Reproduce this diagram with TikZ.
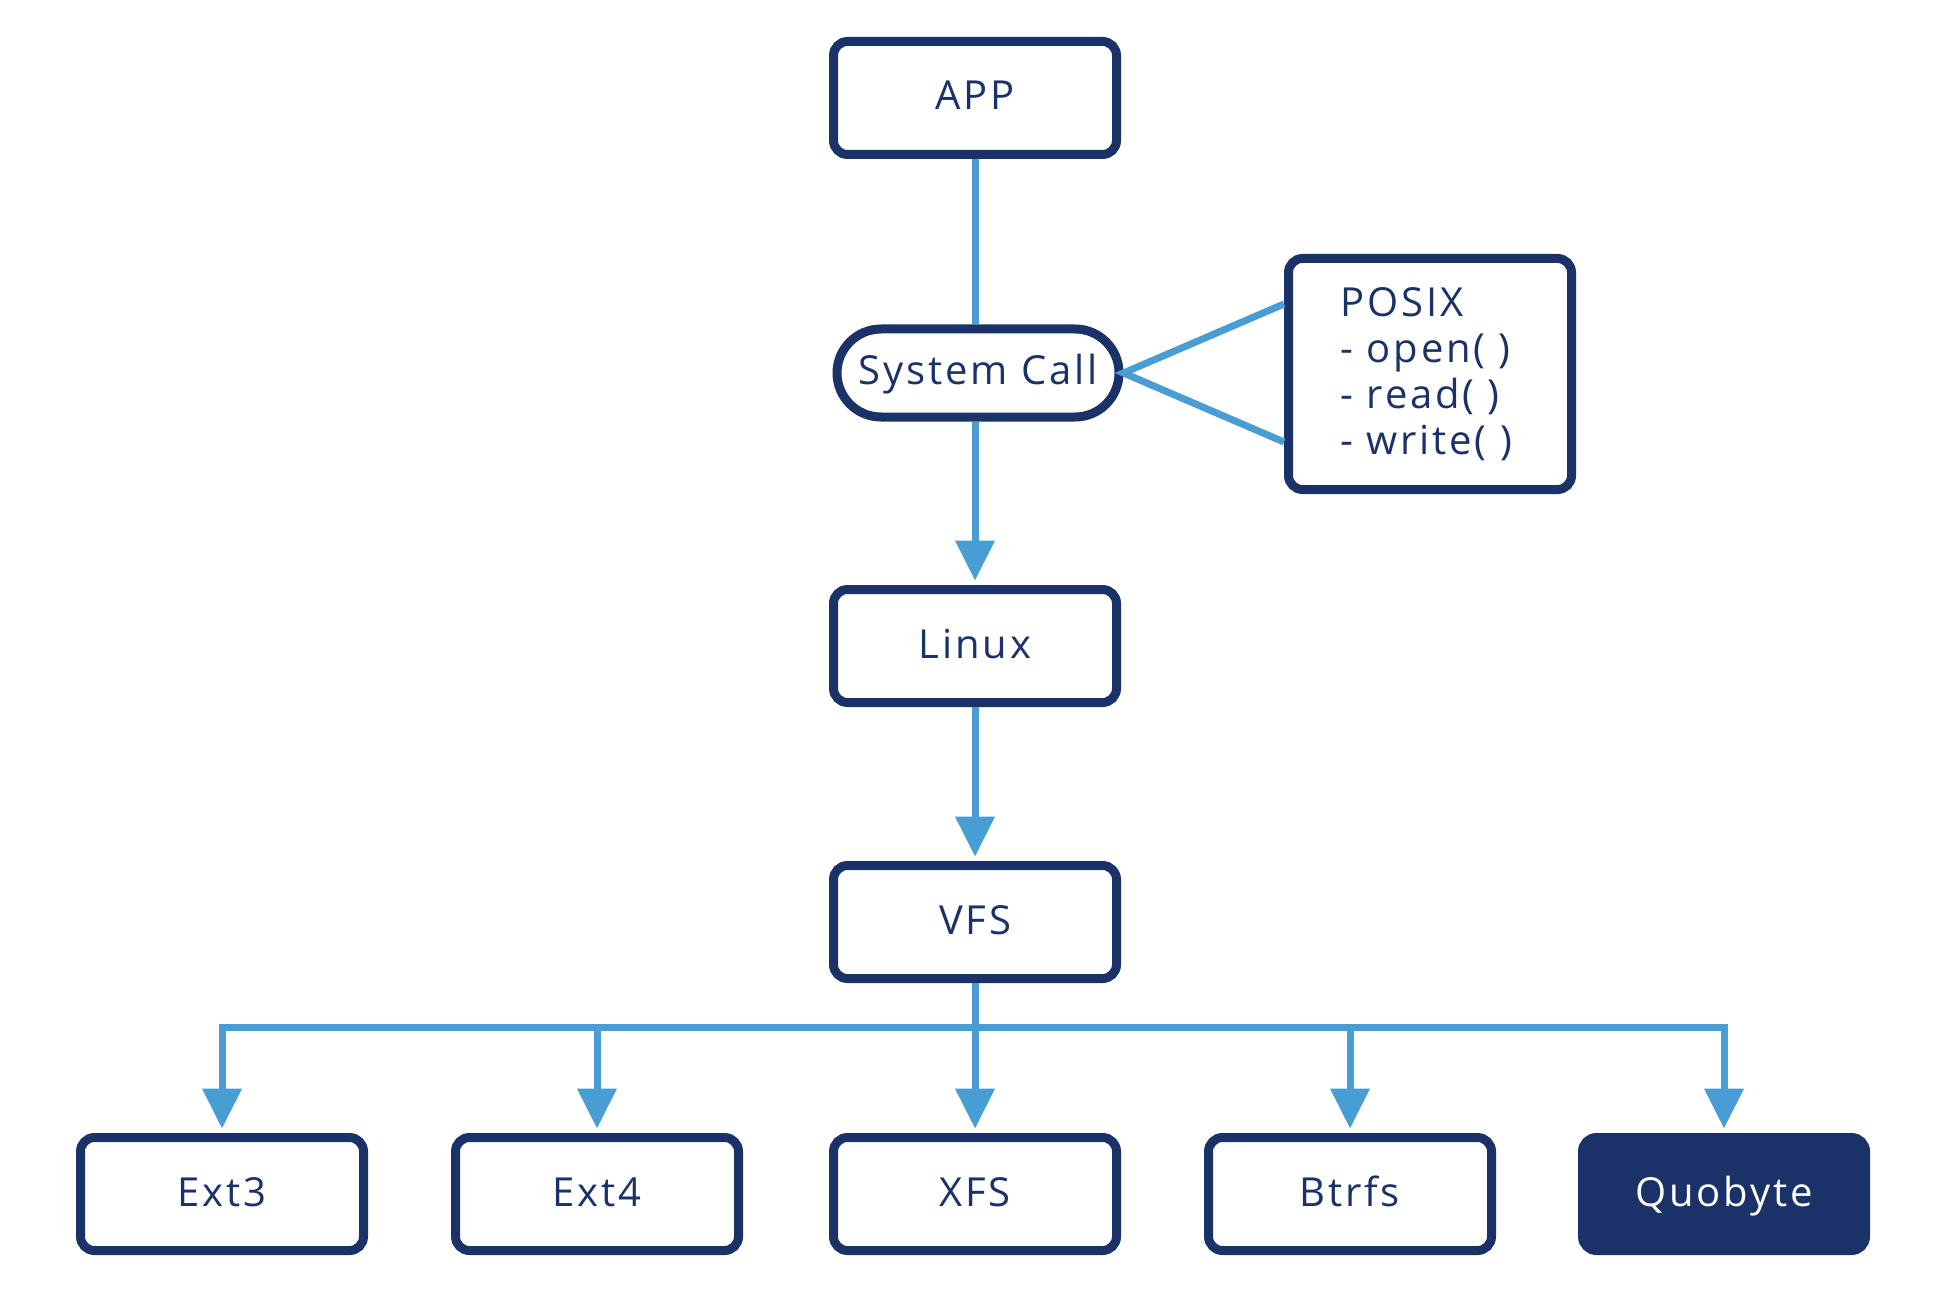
\documentclass[tikz,border=0pt]{standalone}
\usepackage{fontspec}
\setmainfont[LetterSpace=7]{Open Sans}
\usetikzlibrary{arrows.meta,calc}
\definecolor{navy}{RGB}{27,50,104}
\definecolor{lblue}{RGB}{72,158,212}
\begin{document}
\begin{tikzpicture}[x=0.5pt,y=-0.5pt,
  box/.style={draw=navy, line width=4.5pt, rounded corners=7pt, minimum width=141.5pt, minimum height=56.5pt, text=navy, font=\fontsize{20}{23}\selectfont, inner sep=0pt, text height=16pt, text depth=4pt},
  pill/.style={box, rounded corners=22pt, minimum height=44pt, minimum width=141pt},
  qbox/.style={box, fill=navy, text=white},
  posixbox/.style={box, minimum height=115.5pt, text width=89.5pt, inner xsep=25.75pt, align=left, text height=, text depth=},
  conn/.style={draw=lblue, line width=3.5pt},
  arr/.style={conn, -{Triangle[length=20pt,width=19pt]}, shorten >=2.2pt}]
\fill[white] (0,0) rectangle (1952,1310);
\useasboundingbox (0,0) rectangle (1952,1310);
\node[box] (app) at (975,98) {APP};
\node[pill] (sys) at (978,373) {System Call};
\node[posixbox] (posix) at (1430,374) {POSIX\\- open( )\\- read( )\\- write( )};
\node[box] (linux) at (975,646) {Linux};
\node[box] (vfs) at (975,922) {VFS};
\node[box] (ext3) at (222,1194) {Ext3};
\node[box] (ext4) at (597,1194) {Ext4};
\node[box] (xfs) at (975,1194) {XFS};
\node[box] (btrfs) at (1350,1194) {Btrfs};
\node[qbox] (quo) at (1724,1194) {Quobyte};
\coordinate (bus) at (975,1027);
\draw[conn] (app.south) -- (app.south |- sys.north);
\draw[arr] (linux.north |- sys.south) -- (linux.north);
\draw[arr] (linux.south) -- (vfs.north);
\draw[conn] ($(posix.west)+(0,-70)$) -- (sys.east) -- ($(posix.west)+(0,68)$);
\draw[arr] (vfs.south) -- (xfs.north);
\draw[arr] (bus) -| (ext3.north);
\draw[arr] (bus) -| (ext4.north);
\draw[arr] (bus) -| (btrfs.north);
\draw[arr] (bus) -| (quo.north);
\end{tikzpicture}
\end{document}
